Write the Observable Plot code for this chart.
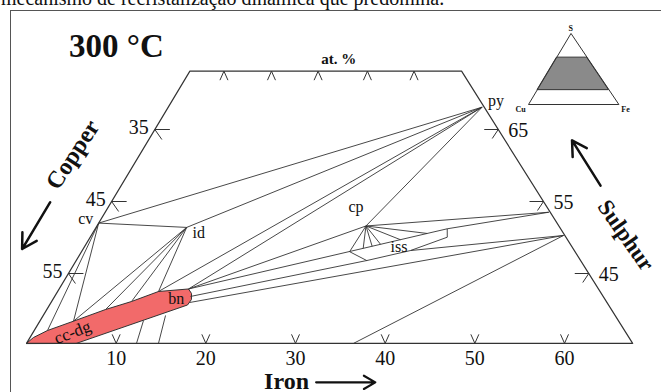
<!DOCTYPE html>
<html>
<head>
<meta charset="utf-8">
<script src="https://cdn.jsdelivr.net/npm/d3@7"></script>
<script src="https://cdn.jsdelivr.net/npm/@observablehq/plot@0.6"></script>
<style>
html,body{margin:0;padding:0;background:#fff;}
body{width:661px;height:392px;overflow:hidden;position:relative;font-family:"Liberation Serif","Times New Roman",serif;}
#doc{position:absolute;left:1px;top:-12px;font-size:20px;line-height:20px;white-space:nowrap;color:#111;}
#box{position:absolute;left:10px;top:10px;width:700px;height:420px;border-left:1.5px solid #555;border-top:1.5px solid #555;}
#main{position:absolute;left:0;top:0;}
#inset{position:absolute;left:515px;top:15px;}
</style>
</head>
<body>
<div id="doc">mecanismo de recristalização dinâmica que predomina.</div>
<div id="box"></div>
<div id="main"></div>
<div id="inset"></div>
<script>
// ---------- data: [at.% Fe, at.% S] ----------
const corners = [[0, 35.3], [0, 73.1], [30.3, 73.1], [67.6, 35.3]];
const phaseNames = ["py", "cv", "id", "cp", "bn"];
const phaseFe = [35.0, 0.0, 10.1, 30.0, 14.4];
const phaseS = [68.1, 52.0, 51.4, 51.6, 42.85];
const ccdgBnField = [
  [0, 35.3], [0.39, 36.11], [1.48, 37.08], [3.76, 38.38], [6.55, 40.0], [8.91, 41.11],
  [11.25, 42.5], [14.43, 42.85], [15.07, 42.22], [15.46, 41.39], [15.39, 40.63], [5.58, 35.3]
];
const issField = [[29.9, 48.06], [39.25, 51.21], [39.82, 50.04], [36.61, 48.19], [32.44, 46.81]];
const tieLines = [
  [0, 52.0, 35.0, 68.1], [0, 52.0, 10.1, 51.4], [10.1, 51.4, 35.0, 68.1],
  [11.25, 42.5, 35.0, 68.1], [14.43, 42.85, 35.0, 68.1], [30.0, 51.6, 35.0, 68.1],
  [0, 52.0, 1.48, 37.08], [0, 52.0, 3.76, 38.38],
  [10.1, 51.4, 3.76, 38.38], [10.1, 51.4, 6.55, 40.0], [10.1, 51.4, 8.91, 41.11], [10.1, 51.4, 11.25, 42.5],
  [11.52, 38.47, 12.27, 35.3], [13.64, 39.17, 14.72, 35.3],
  [14.43, 42.85, 30.0, 51.6], [14.43, 42.85, 29.9, 48.06], [15.15, 41.81, 32.44, 46.81],
  [15.45, 40.97, 52.67, 50.28], [36.48, 35.3, 52.67, 50.28],
  [30.0, 51.6, 49.47, 53.51], [39.25, 51.21, 49.47, 53.51], [36.61, 48.19, 52.67, 50.28],
  [30.0, 51.6, 29.9, 48.06], [30.0, 51.6, 31.19, 48.49], [30.0, 51.6, 32.05, 48.78],
  [30.0, 51.6, 32.85, 49.06], [30.0, 51.6, 34.77, 49.69], [30.0, 51.6, 37.33, 50.56]
];
const ironTicks = [10, 20, 30, 40, 50, 60];
const copperTicks = [35, 45, 55];
const sulphurTicks = [65, 55, 45];
const topTicks = [3.8, 9.1, 14.3, 19.8, 25.0];
const insetBand = [21, 67];

// ---------- picture calibration ----------
const W = 661, H = 392;
const PX = 8.967, PY = 7.2, K = 0.482;       // px per at.% Fe, px per at.% S, skew of S axis
const S0 = corners[0][1], Stop = corners[1][1];
const X = (fe, s) => fe + K * (s - S0);
const rightFe = s => corners[3][0] + (corners[2][0] - corners[3][0]) * (s - S0) / (Stop - S0);

const ink = "#333";
const serif = "'Liberation Serif', 'Times New Roman', serif";
const T = {fontFamily: serif, fill: "#111"};

// tick arms (pixel offsets from the tick point)
const arms = [];
ironTicks.forEach(v => { for (const a of [[-4, -9], [4, -9]]) arms.push({fe: v, s: S0, a}); });
topTicks.forEach(v => { for (const a of [[-4, 9], [4, 9]]) arms.push({fe: v, s: Stop, a}); });
copperTicks.forEach(v => { for (const a of [[15, 0], [7, 10]]) arms.push({fe: 0, s: 100 - v, a}); });
sulphurTicks.forEach(v => { for (const a of [[-14, 0], [-6, 9]]) arms.push({fe: rightFe(v), s: v, a}); });

// phase labels: pixel offsets from each phase point
const labelOffset = {py: [14, -6], cv: [-13, -4], id: [12, 5], cp: [-10, -19], bn: [-12, 10]};
const phases = phaseNames.map((n, i) => ({n, fe: phaseFe[i], s: phaseS[i]}));
const ph = n => phases.find(p => p.n === n);
const cp = ph("cp");

const main = Plot.plot({
  width: W, height: H, margin: 0,
  style: {background: "transparent", fontFamily: serif, color: ink, overflow: "visible"},
  x: {domain: [-26 / PX, (W - 26) / PX], range: [0, W], axis: null},
  y: {domain: [45 - (H - 273) / PY, 45 + 273 / PY], range: [H, 0], axis: null},
  marks: [
    Plot.line(ccdgBnField, {x: d => X(d[0], d[1]), y: d => d[1], curve: "linear-closed",
      fill: "#f26a6a", stroke: ink, strokeWidth: 1}),
    Plot.line(issField, {x: d => X(d[0], d[1]), y: d => d[1], curve: "linear-closed",
      fill: "none", stroke: ink, strokeWidth: 0.9}),
    Plot.link(tieLines, {x1: d => X(d[0], d[1]), y1: d => d[1], x2: d => X(d[2], d[3]), y2: d => d[3],
      stroke: ink, strokeWidth: 0.9}),
    Plot.line(corners, {x: d => X(d[0], d[1]), y: d => d[1], curve: "linear-closed",
      stroke: ink, strokeWidth: 1.2}),
    Plot.link(arms, {x1: d => X(d.fe, d.s), y1: d => d.s,
      x2: d => X(d.fe, d.s) + d.a[0] / PX, y2: d => d.s - d.a[1] / PY, stroke: ink, strokeWidth: 1}),
    // tick labels
    Plot.text(ironTicks, {...T, x: d => X(d, S0), y: () => S0, text: d => d, dy: 15, fontSize: 20}),
    Plot.text(copperTicks, {...T, x: d => X(0, 100 - d), y: d => 100 - d, text: d => d, dx: -6, dy: -2,
      textAnchor: "end", fontSize: 20}),
    Plot.text(sulphurTicks, {...T, x: d => X(rightFe(d), d), y: d => d, text: d => d, dx: 10, dy: 1,
      textAnchor: "start", fontSize: 20}),
    // phase labels
    Plot.text(phases, {...T, x: d => X(d.fe, d.s) + labelOffset[d.n][0] / PX,
      y: d => d.s - labelOffset[d.n][1] / PY, text: "n", fontSize: 16}),
    Plot.text(["iss"], {...T, x: () => X(cp.fe, cp.s) + 33 / PX, y: () => cp.s - 21 / PY, text: d => d, fontSize: 16}),
    Plot.text(["cc-dg"], {...T, x: () => X(0, S0) + 46 / PX, y: () => S0 + 11 / PY, text: d => d,
      rotate: -21, fontSize: 17}),
    // axis titles
    Plot.text(["at. %"], {...T, x: () => X(16.6, Stop), y: () => Stop, text: d => d, dy: -12,
      fontSize: 15, fontWeight: "bold"}),
    Plot.text(["Iron"], {...T, x: () => X(29.0, S0), y: () => S0, text: d => d, dy: 38,
      fontSize: 24, fontWeight: "bold"}),
    Plot.arrow([0], {x1: () => X(32.3, S0), y1: () => S0, x2: () => X(38.9, S0), y2: () => S0,
      dy: 39, stroke: "#111", strokeWidth: 2.2, headLength: 9}),
    Plot.text(["Copper"], {...T, x: () => X(0, 61.5), y: () => 61.5, text: d => d, dx: -67,
      rotate: -57, fontSize: 24, fontWeight: "bold"}),
    Plot.arrow([0], {x1: () => X(0, 54.9), y1: () => 54.9, x2: () => X(0, 48.4), y2: () => 48.4,
      dx: -61, stroke: "#111", strokeWidth: 2.5, headLength: 10}),
    Plot.text(["Sulphur"], {...T, x: () => X(rightFe(50.3), 50.3), y: () => 50.3, text: d => d, dx: 61,
      rotate: 55, fontSize: 23, fontWeight: "bold"}),
    Plot.arrow([0], {x1: () => X(rightFe(57.2), 57.2), y1: () => 57.2, x2: () => X(rightFe(63.5), 63.5),
      y2: () => 63.5, dx: 67, stroke: "#111", strokeWidth: 2.5, headLength: 10}),
    Plot.text(["300 °C"], {...T, frameAnchor: "top-left", textAnchor: "middle", lineAnchor: "middle",
      text: d => d, dx: 116, dy: 46, fontSize: 33, fontWeight: "bold"})
  ]
});
document.getElementById("main").append(main);

// ---------- inset: schematic Cu–Fe–S triangle ----------
const insetCorners = [[0, 100], [0, 0], [100, 0]];  // [Fe, S]: S apex, Cu, Fe
const IX = (fe, s) => fe + 0.47 * s;
const bandPoly = [[0, insetBand[0]], [100 - insetBand[0], insetBand[0]], [100 - insetBand[1], insetBand[1]], [0, insetBand[1]]];
const insetLabels = [["S", 0, 100, 0, -5], ["Cu", 0, 0, -8, 5], ["Fe", 100, 0, 7, 5]];
const inset = Plot.plot({
  width: 120, height: 100, margin: 0,
  style: {background: "transparent", fontFamily: serif, color: ink, overflow: "visible"},
  x: {domain: [0, 100], range: [13, 103], axis: null},
  y: {domain: [0, 100], range: [89, 18.3], axis: null},
  marks: [
    Plot.line(bandPoly, {x: d => IX(d[0], d[1]), y: d => d[1], curve: "linear-closed",
      fill: "#8a8a8a", stroke: ink, strokeWidth: 1}),
    Plot.line(insetCorners, {x: d => IX(d[0], d[1]), y: d => d[1], curve: "linear-closed",
      stroke: ink, strokeWidth: 1}),
    Plot.text(insetLabels, {...T, x: d => IX(d[1], d[2]) + d[3] * 100 / 90, y: d => d[2] - d[4] * 100 / 70.7,
      text: d => d[0], fontSize: 8, fontWeight: "bold"})
  ]
});
document.getElementById("inset").append(inset);
</script>
</body>
</html>
